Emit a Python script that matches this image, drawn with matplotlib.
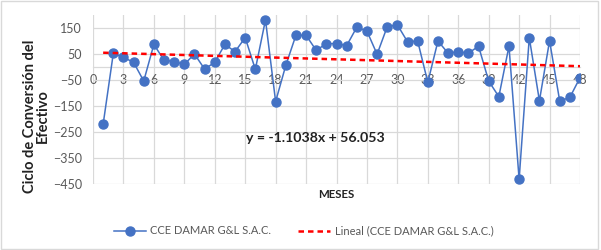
import numpy as np
import matplotlib
matplotlib.use("Agg")
import matplotlib.pyplot as plt
from matplotlib.patches import Rectangle

# data
meses = list(range(1, 49))
cce = [-220, 52, 37, 18, -54, 87, 26, 21, 10, 50,
       -8, 18, 87, 59, 113, -9, 181, -133, 6, 122,
       122, 64, 90, 90, 82, 153, 138, 49, 155, 162,
       97, 100, -59, 100, 53, 59, 53, 80, -54, -114,
       80, -432, 113, -130, 101, -131, -117, -41]
pendiente = -1.1038
intercepto = 56.053
xticks = list(range(0, 49, 3))
yticks = [-450, -350, -250, -150, -50, 50, 150]

BLUE = "#4472C4"
GRID = "#d9d9d9"
TXT = "#595959"
plt.rcParams["font.family"] = ["Lato", "DejaVu Sans"]

fig = plt.figure(figsize=(6.01, 2.5), dpi=100)
ax = fig.add_axes([93 / 601, 1 - 184 / 250, (580 - 93) / 601, (184 - 15) / 250])

x = np.array(meses)
ax.plot(x, cce, color=BLUE, lw=1.1, marker="o", ms=6.5, mfc=BLUE, mec=BLUE,
        label="CCE DAMAR G&L S.A.C.", zorder=3)
ax.plot(x, pendiente * x + intercepto, color="#ff0000", lw=1.8, ls=(0, (2.2, 1.6)),
        label="Lineal (CCE DAMAR G&L S.A.C.)", zorder=4)

ax.set_xlim(0, 48)
ax.set_ylim(-450, 200)
ax.set_xticks(xticks)
ax.set_yticks(yticks)
ax.grid(True, color=GRID, lw=0.9)
ax.set_axisbelow(True)
for s in ("top", "right", "left"):
    ax.spines[s].set_visible(False)
ax.spines["bottom"].set_position(("data", 0))
ax.spines["bottom"].set_color(GRID)
ax.spines["bottom"].set_linewidth(0.9)
ax.tick_params(length=0, labelsize=9, colors=TXT)
ax.tick_params(axis="y", pad=8)
ax.tick_params(axis="x", pad=5)

fig.text(36 / 601, 1 - 116 / 250, "Ciclo de Conversión del\nEfectivo", rotation=90,
         ha="center", va="center", fontsize=10.5, fontweight="bold", color="#222222",
         linespacing=0.9)
fig.text(336 / 601, 1 - 195 / 250, "MESES", ha="center", va="center",
         fontsize=8.3, fontweight="bold", color="#222222")
fig.text(315 / 601, 1 - 138 / 250, f"y = {pendiente}x + {intercepto}", ha="center",
         va="center", fontsize=10.2, fontweight="bold", color="#222222")

fig.legend(loc="center", bbox_to_anchor=(0.505, 1 - 231 / 250), ncol=2, frameon=False,
           fontsize=8, handlelength=2.9, handletextpad=0.4, columnspacing=2.4,
           labelcolor=TXT)

fig.patches.append(Rectangle((0.002, 0.006), 0.993, 0.99, transform=fig.transFigure,
                             fill=False, ec="#d9d9d9", lw=1))
fig.savefig("out.png", dpi=100)
